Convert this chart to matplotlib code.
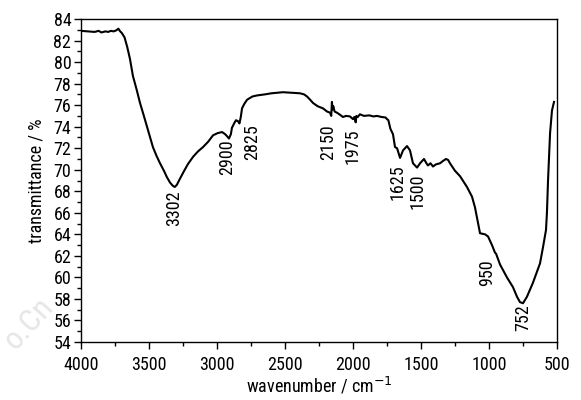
import numpy as np
import matplotlib.pyplot as plt
from matplotlib.ticker import MultipleLocator

plt.rcParams['font.family'] = ['Roboto Condensed', 'Liberation Sans', 'DejaVu Sans']

# IR spectrum, traced points (wavenumber in cm^-1, transmittance in %)
wavenumber = [4000, 3950, 3900, 3870, 3850, 3820, 3800, 3780, 3760, 3740,
              3725, 3715, 3700, 3680, 3660, 3640, 3618, 3590, 3566, 3540,
              3515, 3490, 3471, 3445, 3419, 3390, 3368, 3345, 3324, 3310,
              3295, 3275, 3250, 3215, 3176, 3140, 3103, 3065, 3029, 2995,
              2963, 2940, 2925, 2912, 2898, 2890, 2870, 2860, 2845, 2835,
              2825, 2816, 2800, 2779, 2740, 2706, 2647, 2600, 2515, 2450,
              2390, 2360, 2338, 2315, 2294, 2260, 2221, 2190, 2169, 2160,
              2155, 2150, 2145, 2135, 2118, 2095, 2074, 2050, 2022, 2000,
              1990, 1980, 1975, 1965, 1949, 1920, 1880, 1850, 1824, 1790,
              1760, 1750, 1740, 1725, 1706, 1691, 1676, 1654, 1632, 1603,
              1581, 1559, 1529, 1507, 1478, 1460, 1449, 1430, 1412, 1390,
              1360, 1340, 1316, 1300, 1287, 1250, 1213, 1162, 1125, 1103,
              1081, 1066, 1029, 1007, 978, 956, 948, 919, 868, 824,
              794, 772, 750, 721, 677, 625, 603, 581, 574, 566,
              551, 537, 522]
transmittance = [82.9, 82.85, 82.8, 82.9, 82.75, 82.85, 82.8, 82.9, 82.85, 82.95,
                 83.1, 82.9, 82.7, 82.3, 81.4, 80.3, 78.7, 77.4, 76.2, 75.1,
                 74.0, 72.9, 72.1, 71.3, 70.6, 69.9, 69.3, 68.8, 68.5, 68.4,
                 68.6, 69.1, 69.7, 70.5, 71.2, 71.7, 72.1, 72.6, 73.2, 73.4,
                 73.5, 73.3, 73.1, 72.9, 73.3, 73.9, 74.4, 74.6, 74.5, 74.3,
                 74.9, 75.7, 76.1, 76.5, 76.8, 76.9, 77.0, 77.1, 77.2, 77.15,
                 77.1, 77.0, 76.8, 76.5, 76.2, 75.9, 75.7, 75.4, 75.3, 75.0,
                 76.3, 75.6, 75.9, 75.4, 75.3, 75.1, 74.9, 75.0, 74.95, 74.7,
                 74.9, 74.4, 75.0, 74.9, 75.15, 75.0, 75.05, 74.95, 75.0, 74.9,
                 74.85, 74.7, 74.6, 73.8, 73.3, 72.1, 72.0, 71.1, 71.8, 72.2,
                 71.8, 70.6, 70.2, 70.6, 71.0, 70.6, 70.4, 70.6, 70.3, 70.5,
                 70.6, 70.8, 71.0, 70.9, 70.6, 69.9, 69.4, 68.4, 67.5, 66.5,
                 65.1, 64.1, 64.0, 63.8, 63.0, 62.3, 62.2, 61.2, 60.0, 59.1,
                 58.2, 57.7, 57.6, 58.2, 59.5, 61.3, 62.8, 64.4, 66.0, 69.0,
                 73.4, 75.5, 76.3]

# Band labels: text, x position, label centre
band_labels = ['3302', '2900', '2825', '2150', '1975', '1625', '1500', '950', '752']
band_x = [3316, 2926, 2743, 2184, 2000, 1676, 1522, 1015, 750]
band_mid = [66.4, 71.2, 72.6, 72.6, 72.2, 68.8, 68.0, 60.4, 56.3]

fig = plt.figure(figsize=(5.81, 4.0), dpi=100)
ax = fig.add_axes([0.1394, 0.145, 0.8193, 0.8075])

ax.plot(wavenumber, transmittance, color='black', linewidth=1.5)

for lbl, x, y in zip(band_labels, band_x, band_mid):
    ax.text(x, y, lbl, rotation=90, ha='center', va='center', fontsize=13)

ax.set_xlim(4000, 500)
ax.set_ylim(54, 84)
ax.xaxis.set_major_locator(MultipleLocator(500))
ax.xaxis.set_minor_locator(MultipleLocator(250))
ax.yaxis.set_major_locator(MultipleLocator(2))
ax.yaxis.set_minor_locator(MultipleLocator(1))
ax.tick_params(which='both', direction='out', width=1, labelsize=13, pad=2)
ax.tick_params(which='major', length=5)
ax.tick_params(which='minor', length=3)
ax.tick_params(axis='x', pad=5)
for s in ax.spines.values():
    s.set_linewidth(1.0)

ax.set_xlabel('wavenumber / cm$^{-1}$', fontsize=13, labelpad=1)
ax.set_ylabel('transmittance / %', fontsize=13, labelpad=6)

# faint publisher mark in the lower-left corner
fig.text(0.05, 0.19, 'o.Cn', fontsize=23, color='#e6e6e6', rotation=48,
         ha='center', va='center', zorder=-1)

fig.savefig('out.png', dpi=100)
